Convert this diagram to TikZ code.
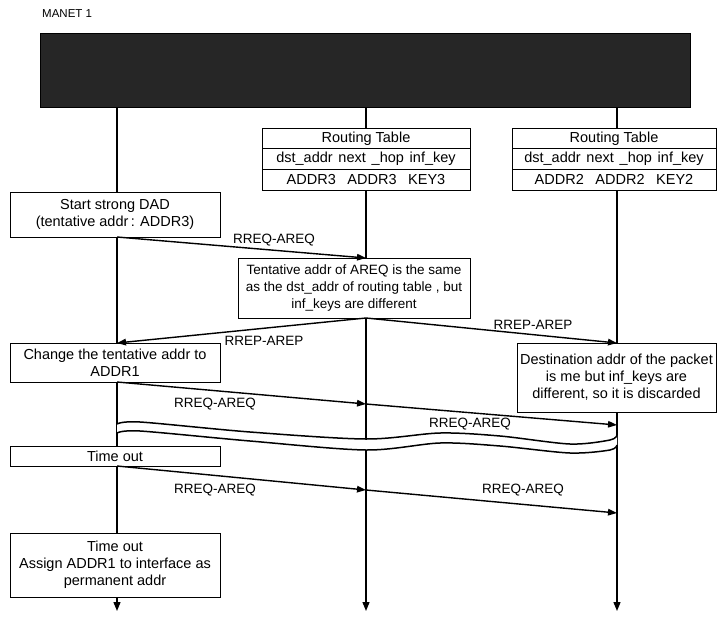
\documentclass[tikz,border=0pt]{standalone}
\usepackage{fontspec}
\setmainfont{Liberation Sans}
\usetikzlibrary{arrows.meta}
\begin{document}
\begin{tikzpicture}[x=1pt,y=-1pt,
  every node/.style={font=\fontsize{14.5}{17}\selectfont},
  box/.style={draw, line width=0.9pt, fill=white, align=center, inner sep=0pt},
  rtrow/.style={draw, line width=0.9pt, fill=white, inner sep=0pt, minimum height=20.7pt},
  lifearrow/.style={line width=1.3pt, -{Triangle[length=9pt,width=7pt]}},
  msg/.style={line width=1.4pt, -{Triangle[length=9pt,width=6.5pt]}},
  lbl/.style={inner sep=1pt, font=\fontsize{13.5}{16}\selectfont},
  wave/.style={line width=1.5pt}
]
\useasboundingbox (0,0) rectangle (717,616);
% title
\node[anchor=west, inner sep=0pt, font=\fontsize{11.5}{14}\selectfont] (title) at (42,14) {MANET 1};
% dark band
\node[fill=black!85, draw=black, minimum width=650pt, minimum height=74pt, inner sep=0pt] (band) at (365,70) {};
% lifeline coordinates
\coordinate (l1top) at (117,107);
\coordinate (l2top) at (366,107);
\coordinate (l3top) at (617,107);
\coordinate (l1end) at (117,611);
\coordinate (l2end) at (366,611);
\coordinate (l3end) at (617,611);
\draw[lifearrow] (l1top) -- (l1end);
\draw[lifearrow] (l2top) -- (l2end);
\draw[lifearrow] (l3top) -- (l3end);
% routing tables
\node[rtrow, minimum width=208pt] (rt1a) at (366,138.3) {Routing Table};
\node[rtrow, minimum width=208pt] (rt1b) at (366,159) {dst\_addr\hspace{0.4em}next\hspace{0.4em}\_hop\hspace{0.4em}inf\_key};
\node[rtrow, minimum width=208pt] (rt1c) at (366,179.7) {ADDR3\hspace{0.8em}ADDR3\hspace{0.8em}KEY3};
\node[rtrow, minimum width=204pt] (rt2a) at (614,138.3) {Routing Table};
\node[rtrow, minimum width=204pt] (rt2b) at (614,159) {dst\_addr\hspace{0.4em}next\hspace{0.4em}\_hop\hspace{0.4em}inf\_key};
\node[rtrow, minimum width=204pt] (rt2c) at (614,179.7) {ADDR2\hspace{0.8em}ADDR2\hspace{0.8em}KEY2};
% boxes
\node[box, minimum width=210pt, minimum height=45pt] (start) at (115,214.5) {Start strong DAD\\(tentative addr\,: ADDR3)};
\node[box, minimum width=232pt, minimum height=60pt, font=\fontsize{13.5}{17}\selectfont] (tent) at (354,288) {Tentative addr of AREQ is the same\\as the dst\_addr of routing table , but\\inf\_keys are different};
\node[box, minimum width=210pt, minimum height=39pt] (change) at (115,362.5) {Change the tentative addr to\\ADDR1};
\node[box, minimum width=199pt, minimum height=69pt] (dest) at (616.5,377.5) {Destination addr of the packet\\is me but inf\_keys are\\different, so it is discarded};
\node[box, minimum width=210pt, minimum height=20pt] (tout) at (115,456) {Time out};
\node[box, minimum width=210pt, minimum height=64pt] (final) at (115,565) {Time out\\Assign ADDR1 to interface as\\permanent addr};
% message points
\coordinate (m1s) at (117,237);
\coordinate (m1e) at (366,258);
\coordinate (m2s) at (366,318);
\coordinate (m2l) at (117,343);
\coordinate (m2r) at (617,343);
\coordinate (m3s) at (117,382);
\coordinate (m3m) at (366,404);
\coordinate (m3e) at (617,425);
\coordinate (m5s) at (117,466);
\coordinate (m5m) at (366,490);
\coordinate (m5e) at (617,513);
\draw[msg] (m1s) -- (m1e);
\draw[msg] (m2s) -- (m2l);
\draw[msg] (m2s) -- (m2r);
\draw[msg] (m3s) -- (m3m);
\draw[msg] (m3m) -- (m3e);
\draw[msg] (m5s) -- (m5m);
\draw[msg] (m5m) -- (m5e);
% labels
\node[lbl] (lb1) at (274,240) {RREQ-AREQ};
\node[lbl] (lb2) at (264,341) {RREP-AREP};
\node[lbl] (lb3) at (533,325) {RREP-AREP};
\node[lbl] (lb4) at (215,404) {RREQ-AREQ};
\node[lbl] (lb5) at (470,424) {RREQ-AREQ};
\node[lbl] (lb6) at (215,490) {RREQ-AREQ};
\node[lbl] (lb7) at (523,490) {RREQ-AREQ};
% time break waves
\fill[white] plot[smooth] coordinates {(117,424) (140,422) (250,432) (366,439) (440,433) (500,436) (570,444) (610,440) (617,435)}
  -- plot[smooth] coordinates {(617,445) (610,450) (570,453) (500,446) (440,443) (366,450) (250,441) (140,431) (117,433)} -- cycle;
\draw[wave] plot[smooth] coordinates {(117,424) (140,422) (250,432) (366,439) (440,433) (500,436) (570,444) (610,440) (617,435)};
\draw[wave] plot[smooth] coordinates {(117,433) (140,431) (250,441) (366,450) (440,443) (500,446) (570,453) (610,450) (617,445)};
\end{tikzpicture}
\end{document}
